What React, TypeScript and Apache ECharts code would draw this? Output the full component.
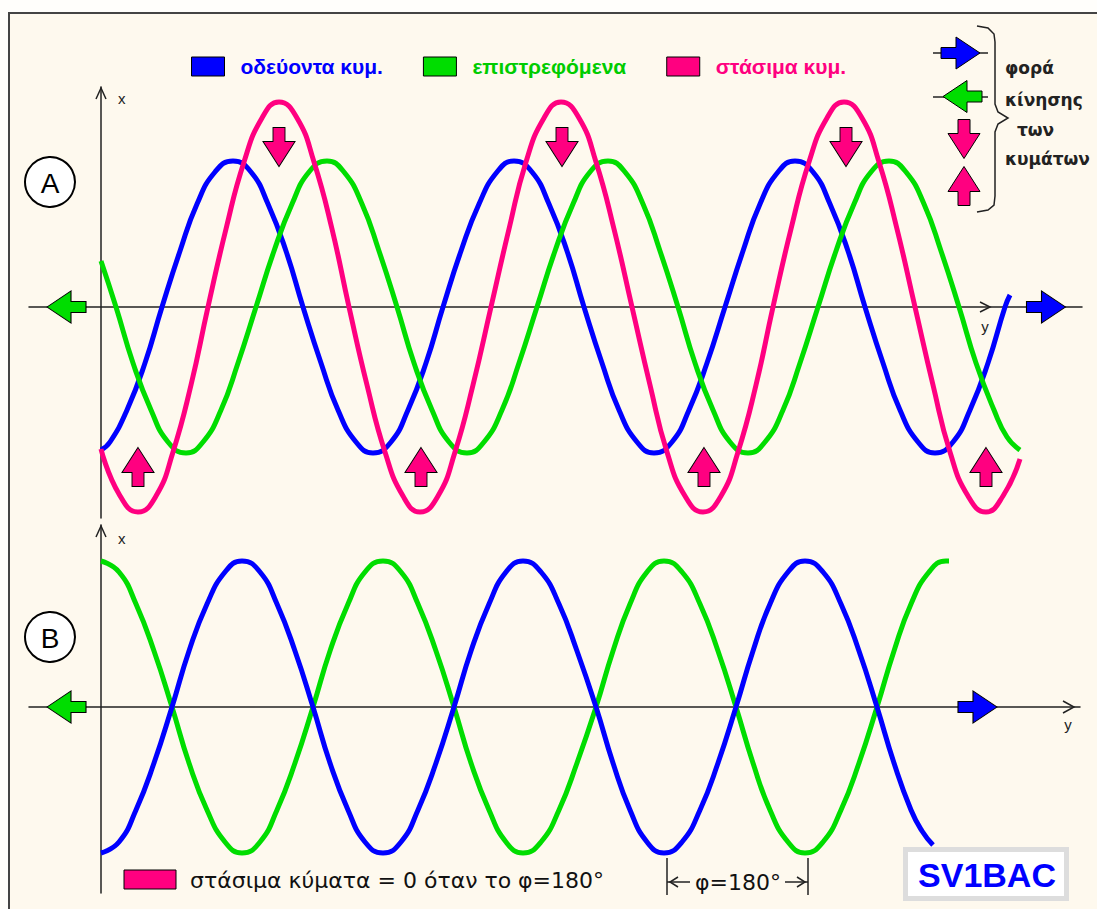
import React, { useEffect, useRef } from "react";
import * as echarts from "echarts";

// Horizontal values: distance along the propagation axis (px units from the x-axis origin)
// Vertical values: displacement (px units above the axis)

const blueA_x = [0, 9, 26, 44, 61, 79, 96, 114, 132, 150, 167, 185, 202, 220, 237, 255, 272, 290, 307, 325, 342, 360, 378, 396, 413, 431, 448, 466, 483, 501, 518, 536, 553, 571, 588, 606, 624, 642, 659, 677, 694, 712, 729, 747, 764, 782, 799, 817, 834, 852, 869, 887, 904, 909];
const blueA_v = [-143, -135, -103, -56, 0, 56, 103, 135, 146, 135, 103, 56, 0, -56, -103, -135, -146, -135, -103, -56, 0, 56, 103, 135, 146, 135, 103, 56, 0, -56, -103, -135, -146, -135, -103, -56, 0, 56, 103, 135, 146, 135, 103, 56, 0, -56, -103, -135, -146, -135, -103, -56, 0, 12];

const greenA_x = [0, 15, 32, 50, 67, 85, 102, 120, 137, 155, 173, 191, 208, 226, 243, 261, 278, 296, 313, 331, 348, 366, 383, 401, 418, 436, 454, 472, 489, 507, 524, 542, 559, 577, 594, 612, 629, 647, 664, 682, 699, 717, 735, 753, 770, 788, 805, 823, 840, 858, 875, 893, 906, 919];
const greenA_v = [46, 0, -56, -103, -135, -146, -135, -103, -56, 0, 56, 103, 135, 146, 135, 103, 56, 0, -56, -103, -135, -146, -135, -103, -56, 0, 56, 103, 135, 146, 135, 103, 56, 0, -56, -103, -135, -146, -135, -103, -56, 0, 56, 103, 135, 146, 135, 103, 56, 0, -56, -103, -130, -143];

const pinkA_x = [0, 18, 37, 55, 72, 90, 107, 125, 143, 161, 178, 196, 213, 231, 248, 266, 284, 302, 319, 337, 354, 372, 390, 408, 425, 443, 460, 478, 495, 513, 531, 549, 566, 584, 602, 620, 637, 655, 672, 690, 708, 726, 743, 761, 778, 796, 814, 832, 849, 867, 885, 902, 919];
const pinkA_v = [-142, -187, -205, -189, -145, -78, 0, 78, 145, 189, 205, 189, 145, 78, 0, -78, -145, -189, -205, -189, -145, -78, 0, 78, 145, 189, 205, 189, 145, 78, 0, -78, -145, -189, -205, -189, -145, -78, 0, 78, 145, 189, 205, 189, 145, 78, 0, -78, -145, -189, -205, -189, -152];

const blueB_x = [0, 18, 35, 53, 71, 88, 106, 124, 141, 159, 176, 194, 212, 229, 247, 264, 282, 300, 317, 335, 353, 370, 388, 405, 422, 440, 458, 476, 495, 512, 529, 546, 563, 581, 599, 617, 635, 652, 669, 687, 704, 722, 740, 758, 776, 793, 810, 821, 832];
const blueB_v = [-146, -135, -103, -56, 0, 56, 103, 135, 146, 135, 103, 56, 0, -56, -103, -135, -146, -135, -103, -56, 0, 56, 103, 135, 146, 135, 103, 56, 0, -56, -103, -135, -146, -135, -103, -56, 0, 56, 103, 135, 146, 135, 103, 56, 0, -56, -103, -124, -138];

const greenB_x = [0, 18, 35, 53, 71, 88, 106, 124, 141, 159, 176, 194, 212, 229, 247, 264, 282, 300, 317, 335, 353, 370, 388, 405, 422, 440, 458, 476, 495, 512, 529, 546, 563, 581, 599, 617, 635, 652, 669, 687, 704, 722, 740, 758, 776, 793, 810, 828, 845, 848];
const greenB_v = [146, 135, 103, 56, 0, -56, -103, -135, -146, -135, -103, -56, 0, 56, 103, 135, 146, 135, 103, 56, 0, -56, -103, -135, -146, -135, -103, -56, 0, 56, 103, 135, 146, 135, 103, 56, 0, -56, -103, -135, -146, -135, -103, -56, 0, 56, 103, 135, 146, 146];

const pinkDownArrowX = [178, 461, 745];
const pinkUpArrowX = [37, 320, 603, 885];
const pinkArrowLevel = 160;
const panelA_leftArrowX = [-34.5];
const panelA_rightArrowX = [945];
const panelB_leftArrowX = [-34.5];
const panelB_rightArrowX = [876.5];

const legendNames = ["οδεύοντα κυμ.", "επιστρεφόμενα", "στάσιμα κυμ."];
const sideLabels = ["φορά", "κίνησης", "των", "κυμάτων"];
const bottomNote = "στάσιμα κύματα = 0 όταν το φ=180°";
const phaseNote = "φ=180°";
const signature = "SV1BAC";

const BLUE = "#0000FF";
const GREEN = "#00DD00";
const PINK = "#FF0080";
const INK = "#222222";

const PATH_RIGHT = "path://M0 10.5 L15 10.5 L15 0 L39 16 L15 32 L15 21.5 L0 21.5 Z";
const PATH_LEFT = "path://M0 16 L24 0 L24 10.5 L39 10.5 L39 21.5 L24 21.5 L24 32 Z";
const PATH_DOWN = "path://M10 0 L22 0 L22 14 L32 14 L16 39 L0 14 L10 14 Z";
const PATH_UP = "path://M16 0 L32 25 L22 25 L22 39 L10 39 L10 25 L0 25 Z";

const pairs = (xs: number[], vs: number[]) => xs.map((x, i) => [x, vs[i]]);

function arrowPoly(dir: string, cx: number, cy: number, color: string) {
  let pts: number[][];
  let w = 39, h = 32;
  if (dir === "right") pts = [[0, 10.5], [15, 10.5], [15, 0], [39, 16], [15, 32], [15, 21.5], [0, 21.5]];
  else if (dir === "left") pts = [[0, 16], [24, 0], [24, 10.5], [39, 10.5], [39, 21.5], [24, 21.5], [24, 32]];
  else if (dir === "down") { w = 32; h = 39; pts = [[10, 0], [22, 0], [22, 14], [32, 14], [16, 39], [0, 14], [10, 14]]; }
  else { w = 32; h = 39; pts = [[16, 0], [32, 25], [22, 25], [22, 39], [10, 39], [10, 25], [0, 25]]; }
  return {
    type: "polygon",
    shape: { points: pts.map(([x, y]) => [cx - w / 2 + x, cy - h / 2 + y]) },
    style: { fill: color, stroke: "#000", lineWidth: 1 },
  };
}

function txt(text: string, x: number, y: number, size: number, color: string, opts: any = {}) {
  return {
    type: "text",
    x,
    y,
    style: {
      text,
      fill: color,
      fontSize: size,
      fontFamily: opts.family || "DejaVu Sans",
      fontWeight: opts.weight || "normal",
      align: opts.align || "left",
      textAlign: opts.align || "left",
      verticalAlign: "middle",
      textVerticalAlign: "middle",
    },
  };
}

function chevron(points: number[][]) {
  return { type: "polyline", shape: { points }, style: { stroke: INK, lineWidth: 1.5, fill: null } };
}

function line(x1: number, y1: number, x2: number, y2: number, w = 1.5, c = INK) {
  return { type: "line", shape: { x1, y1, x2, y2 }, style: { stroke: c, lineWidth: w } };
}

export default function App() {
  const ref = useRef<HTMLDivElement>(null);
  useEffect(() => {
    if (!ref.current) return;
    const chart = echarts.init(ref.current, null, { renderer: "svg" });
    const axisCommon = {
      type: "value",
      axisLine: { show: true, onZero: true, lineStyle: { color: INK, width: 1.5 } },
      axisTick: { show: false },
      axisLabel: { show: false },
      splitLine: { show: false },
    };
    const waveStyle = (color: string) => ({
      type: "line",
      smooth: 0.5,
      showSymbol: false,
      symbol: "none",
      lineStyle: { color, width: 5 },
      itemStyle: { color },
      silent: true,
    });
    const arrowSeries = (name: string, xi: number, xs: number[], v: number, path: string, size: number[], color: string) => ({
      type: "scatter",
      name,
      xAxisIndex: xi,
      yAxisIndex: xi,
      data: xs.map((x) => [x, v]),
      symbol: path,
      symbolSize: size,
      itemStyle: { color, borderColor: "#000", borderWidth: 1, opacity: 1 },
      silent: true,
      z: 5,
    });

    const option: any = {
      animation: false,
      backgroundColor: "#FEF9EE",
      legend: {
        data: legendNames.map((n, i) => ({ name: n, textStyle: { color: [BLUE, "#00CC00", PINK][i] } })),
        left: 191,
        top: 56,
        padding: 0,
        itemGap: 40,
        itemWidth: 33,
        itemHeight: 19,
        icon: "rect",
        itemStyle: { borderColor: "#000", borderWidth: 1 },
        textStyle: { fontSize: 21, fontWeight: "bold", fontFamily: "Liberation Sans", padding: [0, 0, 0, 11] },
        selectedMode: false,
      },
      grid: [
        { left: 29, top: 87, width: 1053, height: 431 },
        { left: 29, top: 525, width: 1051, height: 368 },
      ],
      xAxis: [
        { ...axisCommon, gridIndex: 0, min: -72, max: 981 },
        { ...axisCommon, gridIndex: 1, min: -72, max: 979 },
      ],
      yAxis: [
        { ...axisCommon, gridIndex: 0, min: -211, max: 220 },
        { ...axisCommon, gridIndex: 1, min: -186, max: 182 },
      ],
      series: [
        { ...waveStyle(BLUE), name: legendNames[0], xAxisIndex: 0, yAxisIndex: 0, data: pairs(blueA_x, blueA_v) },
        { ...waveStyle(GREEN), name: legendNames[1], xAxisIndex: 0, yAxisIndex: 0, data: pairs(greenA_x, greenA_v) },
        { ...waveStyle(PINK), name: legendNames[2], xAxisIndex: 0, yAxisIndex: 0, data: pairs(pinkA_x, pinkA_v) },
        { ...waveStyle(GREEN), name: legendNames[1], xAxisIndex: 1, yAxisIndex: 1, data: pairs(greenB_x, greenB_v) },
        { ...waveStyle(BLUE), name: legendNames[0], xAxisIndex: 1, yAxisIndex: 1, data: pairs(blueB_x, blueB_v) },
        arrowSeries("κάτω", 0, pinkDownArrowX, pinkArrowLevel, PATH_DOWN, [32, 39], PINK),
        arrowSeries("πάνω", 0, pinkUpArrowX, -pinkArrowLevel, PATH_UP, [32, 39], PINK),
        arrowSeries("αριστερά Α", 0, panelA_leftArrowX, 0, PATH_LEFT, [39, 32], GREEN),
        arrowSeries("δεξιά Α", 0, panelA_rightArrowX, 0, PATH_RIGHT, [39, 32], BLUE),
        arrowSeries("αριστερά Β", 1, panelB_leftArrowX, 0, PATH_LEFT, [39, 32], GREEN),
        arrowSeries("δεξιά Β", 1, panelB_rightArrowX, 0, PATH_RIGHT, [39, 32], BLUE),
      ],
      graphic: [
        { type: "rect", shape: { x: 0, y: 0, width: 1097, height: 12 }, style: { fill: "#FFFEFB" }, z: -1 },
        { type: "rect", shape: { x: 0, y: 0, width: 8, height: 909 }, style: { fill: "#FFFEFB" }, z: -1 },
        line(8, 13, 1097, 13, 2, "#444"),
        line(9, 13, 9, 909, 2, "#444"),
        // panel labels
        { type: "circle", shape: { cx: 50, cy: 182, r: 25 }, style: { fill: "#fff", stroke: "#000", lineWidth: 2 } },
        txt("A", 50, 183, 28, "#000", { align: "center", family: "Liberation Sans" }),
        { type: "circle", shape: { cx: 50, cy: 637, r: 25 }, style: { fill: "#fff", stroke: "#000", lineWidth: 2 } },
        txt("B", 50, 638, 28, "#000", { align: "center", family: "Liberation Sans" }),
        // axis arrows and names
        chevron([[96, 99], [101, 88], [106, 99]]),
        chevron([[96, 537], [101, 526], [106, 537]]),
        chevron([[980, 302], [990, 307], [980, 312]]),
        chevron([[1063, 701], [1074, 707], [1063, 713]]),
        txt("x", 118, 98, 15, INK, { family: "Liberation Sans" }),
        txt("x", 118, 538, 15, INK, { family: "Liberation Sans" }),
        txt("y", 985, 326, 15, INK, { align: "center", family: "Liberation Sans" }),
        txt("y", 1068, 724, 15, INK, { align: "center", family: "Liberation Sans" }),
        // direction key
        line(933, 53, 988, 53),
        line(933, 97, 988, 97),
        arrowPoly("right", 960.5, 53, BLUE),
        arrowPoly("left", 962.5, 96.5, GREEN),
        arrowPoly("down", 964, 139, PINK),
        arrowPoly("up", 964, 186, PINK),
        {
          type: "polyline",
          shape: {
            points: [[977, 26], [988, 28], [994, 34], [995, 42], [995, 104], [998, 112], [1008, 118], [998, 124], [995, 132], [995, 196], [994, 205], [988, 210], [977, 212]],
          },
          style: { stroke: INK, lineWidth: 1.5, fill: null },
        },
        txt(sideLabels[0], 1005, 68, 17, INK, { weight: "bold" }),
        txt(sideLabels[1], 1005, 100, 17, INK, { weight: "bold" }),
        txt(sideLabels[2], 1017, 130, 17, INK, { weight: "bold" }),
        txt(sideLabels[3], 1005, 159, 17, INK, { weight: "bold" }),
        // bottom note
        { type: "rect", shape: { x: 124, y: 870, width: 52, height: 19 }, style: { fill: PINK, stroke: "#000", lineWidth: 1 } },
        txt(bottomNote, 190, 880, 22, "#111"),
        // phase annotation
        line(667, 858, 667, 895),
        line(808, 858, 808, 895),
        line(667, 882, 690, 882),
        chevron([[678, 877], [670, 882], [678, 887]]),
        line(785, 882, 808, 882),
        chevron([[797, 877], [805, 882], [797, 887]]),
        txt(phaseNote, 738, 882, 22, "#111", { align: "center" }),
        // signature
        { type: "rect", shape: { x: 905.5, y: 849.5, width: 161, height: 49 }, style: { fill: "#fff", stroke: "#DDDDDD", lineWidth: 5 } },
        txt(signature, 987, 875, 34, BLUE, { align: "center", weight: "bold", family: "Liberation Sans" }),
      ],
    };
    chart.setOption(option);
    return () => chart.dispose();
  }, []);
  return <div ref={ref} style={{ position: "fixed", left: 0, top: 0, width: 1097, height: 909 }} />;
}
